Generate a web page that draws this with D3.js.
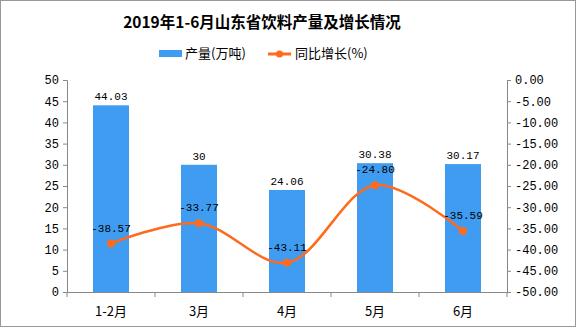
<!DOCTYPE html>
<html><head><meta charset="utf-8">
<script src="https://cdn.jsdelivr.net/npm/d3@7"></script>
<style>body{margin:0;background:#fff}</style>
</head><body>
<script>
const categories = ["1-2月","3月","4月","5月","6月"];
const production = [44.03, 30, 24.06, 30.38, 30.17];
const growth = [-38.57, -33.77, -43.11, -24.80, -35.59];
const leftTicks = [0,5,10,15,20,25,30,35,40,45,50];
const rightTicks = [0,-5,-10,-15,-20,-25,-30,-35,-40,-45,-50];

const W = 576, H = 327;
const m = {left:67, right:69, top:80, bottom:35};
const svg = d3.select("body").append("svg").attr("width",W).attr("height",H);
svg.append("rect").attr("x",0.5).attr("y",0.5).attr("width",W-1).attr("height",H-1)
  .attr("fill","#fff").attr("stroke","#999");

const x = d3.scaleBand().domain(categories).range([m.left, W-m.right]).paddingInner(0).paddingOuter(0);
const yL = d3.scaleLinear().domain([0,50]).range([H-m.bottom, m.top]);
const yR = d3.scaleLinear().domain([-50,0]).range([H-m.bottom, m.top]);
const mono = "'Liberation Mono', 'DejaVu Sans Mono', monospace";
const cjk = "'Noto Sans CJK SC', sans-serif";

// title
svg.append("text").attr("x",262).attr("y",28).attr("text-anchor","middle")
  .attr("font-family",cjk).attr("font-weight","bold").attr("font-size",15.5).attr("fill","#000")
  .text("2019年1-6月山东省饮料产量及增长情况");

// legend
svg.append("rect").attr("x",159).attr("y",50).attr("width",23).attr("height",7).attr("fill","#3F9CF0");
svg.append("text").attr("x",185).attr("y",58).attr("font-family",cjk).attr("font-size",13).text("产量(万吨)");
svg.append("line").attr("x1",268).attr("x2",291).attr("y1",54).attr("y2",54).attr("stroke","#FF6A1C").attr("stroke-width",3);
svg.append("circle").attr("cx",279.5).attr("cy",54).attr("r",3.5).attr("fill","#FF6A1C");
svg.append("text").attr("x",295).attr("y",58).attr("font-family",cjk).attr("font-size",13).text("同比增长(%)");

// axes
const axL = svg.append("g").attr("transform",`translate(${m.left},0)`)
  .call(d3.axisLeft(yL).tickValues(leftTicks).tickSize(4).tickSizeOuter(4));
const axR = svg.append("g").attr("transform",`translate(${W-m.right},0)`)
  .call(d3.axisRight(yR).tickValues(rightTicks).tickSize(4).tickSizeOuter(4).tickFormat(d=>d.toFixed(2)));
const axB = svg.append("g").attr("transform",`translate(0,${H-m.bottom})`)
  .call(d3.axisBottom(x).tickSize(0).tickSizeOuter(0));
[axL, axR, axB].forEach(g=>{
  g.selectAll("path,line").attr("stroke","#888");
  g.selectAll("text").attr("fill","#000");
});
axL.selectAll("text").attr("font-family",mono).attr("font-size",12).attr("dx","-1");
axR.selectAll("text").attr("font-family",mono).attr("font-size",12).attr("dx","1");
axB.selectAll("text").attr("font-family",cjk).attr("font-size",13).attr("dy","1.6em");
// category boundary ticks
const bounds = categories.map(c=>x(c)).concat([W-m.right]);
axB.selectAll("line.b").data(bounds).enter().append("line").attr("class","b")
  .attr("x1",d=>d).attr("x2",d=>d).attr("y1",0).attr("y2",5).attr("stroke","#888");

// bars
const bw = 36;
svg.selectAll("rect.bar").data(production).enter().append("rect").attr("class","bar")
  .attr("x",(d,i)=>x(categories[i])+x.bandwidth()/2-bw/2).attr("width",bw)
  .attr("y",d=>yL(d)).attr("height",d=>yL(0)-yL(d)).attr("fill","#3F9CF0");
svg.selectAll("text.bl").data(production).enter().append("text").attr("class","bl")
  .attr("x",(d,i)=>x(categories[i])+x.bandwidth()/2).attr("y",d=>yL(d)-5)
  .attr("text-anchor","middle").attr("font-family",mono).attr("font-size",11).text(d=>d);

// line
const pts = growth.map((d,i)=>[x(categories[i])+x.bandwidth()/2, yR(d)]);
svg.append("path").attr("d",d3.line().curve(d3.curveCatmullRom.alpha(0.5))(pts))
  .attr("fill","none").attr("stroke","#FF6A1C").attr("stroke-width",2.5);
svg.selectAll("circle.pt").data(pts).enter().append("circle").attr("class","pt")
  .attr("cx",d=>d[0]).attr("cy",d=>d[1]).attr("r",4).attr("fill","#FF6A1C");
svg.selectAll("text.ll").data(growth).enter().append("text").attr("class","ll")
  .attr("x",(d,i)=>pts[i][0]).attr("y",(d,i)=>pts[i][1]-12)
  .attr("text-anchor","middle").attr("font-family",mono).attr("font-size",11).text(d=>d.toFixed(2));
</script>
</body></html>
